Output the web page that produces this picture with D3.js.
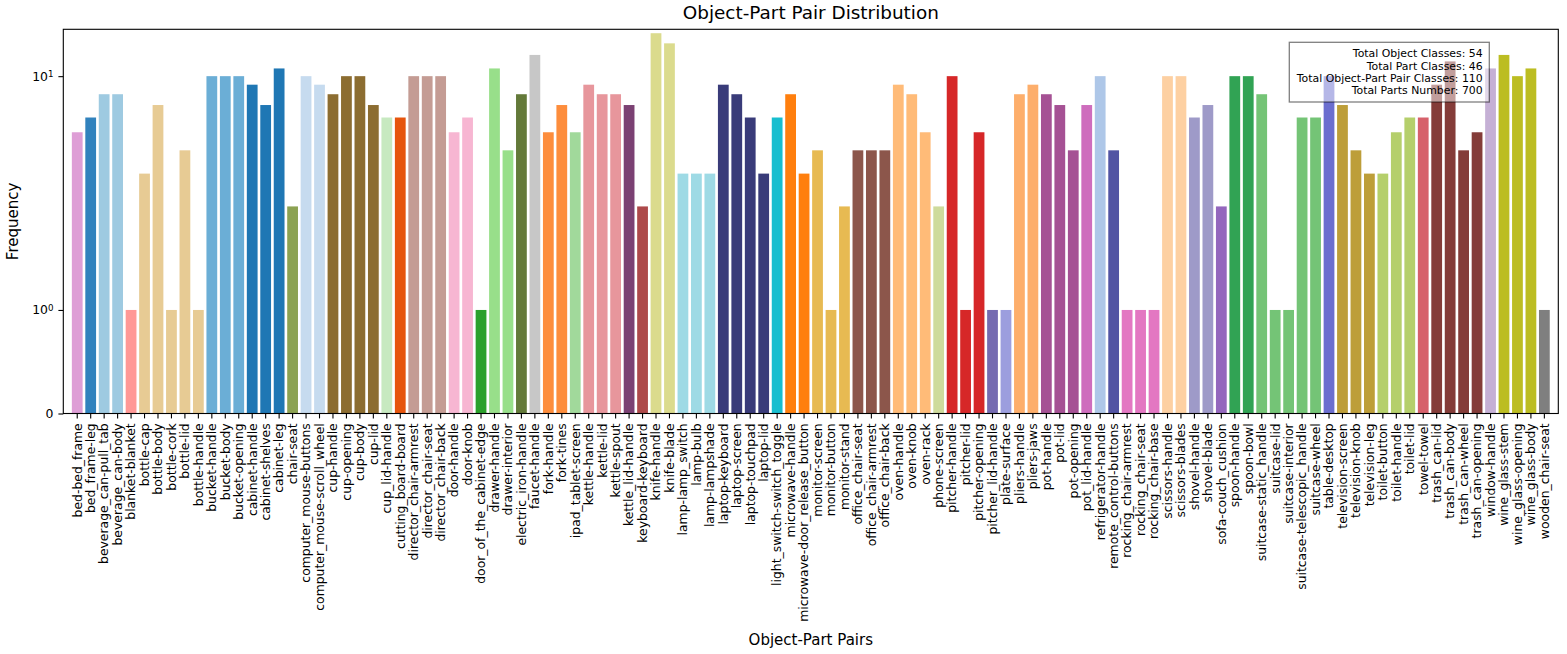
<!DOCTYPE html>
<html>
<head>
<meta charset="utf-8">
<title>Object-Part Pair Distribution</title>
<script src="https://cdn.jsdelivr.net/npm/d3@7"></script>
<style>
  body { margin: 0; background: #fff; }
  svg { display: block; }
  text { font-family: "DejaVu Sans", "Noto Sans", sans-serif; fill: #000; }
</style>
</head>
<body>
<svg id="chart" width="1567" height="654"></svg>
<script>
// Object-part pair names ("object-part") in plotting order
const pairs = [
  "bed-bed_frame", "bed_frame-leg", "beverage_can-pull_tab", "beverage_can-body", "blanket-blanket",
  "bottle-cap", "bottle-body", "bottle-cork", "bottle-lid", "bottle-handle",
  "bucket-handle", "bucket-body", "bucket-opening", "cabinet-handle", "cabinet-shelves",
  "cabinet-leg", "chair-seat", "computer_mouse-buttons", "computer_mouse-scroll_wheel", "cup-handle",
  "cup-opening", "cup-body", "cup-lid", "cup_lid-handle", "cutting_board-board",
  "director_chair-armrest", "director_chair-seat", "director_chair-back", "door-handle", "door-knob",
  "door_of_the_cabinet-edge", "drawer-handle", "drawer-interior", "electric_iron-handle", "faucet-handle",
  "fork-handle", "fork-tines", "ipad_tablet-screen", "kettle-handle", "kettle-lid",
  "kettle-spout", "kettle_lid-handle", "keyboard-keyboard", "knife-handle", "knife-blade",
  "lamp-lamp_switch", "lamp-bulb", "lamp-lampshade", "laptop-keyboard", "laptop-screen",
  "laptop-touchpad", "laptop-lid", "light_switch-switch_toggle", "microwave-handle", "microwave-door_release_button",
  "monitor-screen", "monitor-button", "monitor-stand", "office_chair-seat", "office_chair-armrest",
  "office_chair-back", "oven-handle", "oven-knob", "oven-rack", "phone-screen",
  "pitcher-handle", "pitcher-lid", "pitcher-opening", "pitcher_lid-handle", "plate-surface",
  "pliers-handle", "pliers-jaws", "pot-handle", "pot-lid", "pot-opening",
  "pot_lid-handle", "refrigerator-handle", "remote_control-buttons", "rocking_chair-armrest", "rocking_chair-seat",
  "rocking_chair-base", "scissors-handle", "scissors-blades", "shovel-handle", "shovel-blade",
  "sofa-couch_cushion", "spoon-handle", "spoon-bowl", "suitcase-static_handle", "suitcase-lid",
  "suitcase-interior", "suitcase-telescopic_handle", "suitcase-wheel", "table-desktop", "television-screen",
  "television-knob", "television-leg", "toilet-button", "toilet-handle", "toilet-lid",
  "towel-towel", "trash_can-lid", "trash_can-body", "trash_can-wheel", "trash_can-opening",
  "window-handle", "wine_glass-stem", "wine_glass-opening", "wine_glass-body", "wooden_chair-seat"
];

// Number of annotated parts for each pair
const counts = [
  5, 6, 8, 8, 1, 3, 7, 1, 4, 1,
  10, 10, 10, 9, 7, 11, 2, 10, 9, 8,
  10, 10, 7, 6, 6, 10, 10, 10, 5, 6,
  1, 11, 4, 8, 13, 5, 7, 5, 9, 8,
  8, 7, 2, 17, 15, 3, 3, 3, 9, 8,
  6, 3, 6, 8, 3, 4, 1, 2, 4, 4,
  4, 9, 8, 5, 2, 10, 1, 5, 1, 1,
  8, 9, 8, 7, 4, 7, 10, 4, 1, 1,
  1, 10, 10, 6, 7, 2, 10, 10, 8, 1,
  1, 6, 6, 10, 7, 4, 3, 3, 5, 6,
  6, 9, 12, 4, 5, 11, 13, 10, 11, 1
];

// One colour per object class
const objects = [
  "bed", "bed_frame", "beverage_can", "blanket", "bottle", "bucket", "cabinet", "chair",
  "computer_mouse", "cup", "cup_lid", "cutting_board", "director_chair", "door", "door_of_the_cabinet",
  "drawer", "electric_iron", "faucet", "fork", "ipad_tablet", "kettle", "kettle_lid", "keyboard",
  "knife", "lamp", "laptop", "light_switch", "microwave", "monitor", "office_chair", "oven",
  "phone", "pitcher", "pitcher_lid", "plate", "pliers", "pot", "pot_lid", "refrigerator",
  "remote_control", "rocking_chair", "scissors", "shovel", "sofa", "spoon", "suitcase", "table",
  "television", "toilet", "towel", "trash_can", "window", "wine_glass", "wooden_chair"
];
const objectColors = [
  "#de9ed6", "#3182bd", "#9ecae1", "#ff9896", "#e7cb94", "#6baed6", "#1f77b4", "#8ca252",
  "#c6dbef", "#8c6d31", "#c7e9c0", "#e6550d", "#c49c94", "#f7b6d2", "#2ca02c",
  "#98df8a", "#637939", "#c7c7c7", "#fd8d3c", "#a1d99b", "#e7969c", "#7b4173", "#ad494a",
  "#dbdb8d", "#9edae5", "#393b79", "#17becf", "#ff7f0e", "#e7ba52", "#8c564b", "#ffbb78",
  "#cedb9c", "#d62728", "#756bb1", "#9c9ede", "#fdae6b", "#a55194", "#ce6dbd", "#aec7e8",
  "#5254a3", "#e377c2", "#fdd0a2", "#9e9ac8", "#9467bd", "#31a354", "#74c476", "#6b6ecf",
  "#bd9e39", "#b5cf6b", "#d6616b", "#843c39", "#c5b0d5", "#bcbd22", "#7f7f7f"
];

const yTickValues = [0, 1, 10];

const titleText = "Object-Part Pair Distribution";
const xLabelText = "Object-Part Pairs";
const yLabelText = "Frequency";

// ---- derived summary ----
const objOf = p => p.slice(0, p.indexOf("-"));
const partOf = p => p.slice(p.indexOf("-") + 1);
const summaryLines = [
  `Total Object Classes: ${new Set(pairs.map(objOf)).size}`,
  `Total Part Classes: ${new Set(pairs.map(partOf)).size}`,
  `Total Object-Part Pair Classes: ${pairs.length}`,
  `Total Parts Number: ${d3.sum(counts)}`
];

// ---- layout ----
const plot = { left: 63.3, right: 1558.3, top: 29.3, bottom: 413.5 };
const svg = d3.select("#chart");

// symmetric log transform (linear below the threshold, log10 above)
const LINTHRESH = 2, LINSCALE = 1, BASE = 10;
const linscaleAdj = LINSCALE / (1 - 1 / BASE);
function symlog(v) {
  const a = Math.abs(v);
  if (a <= LINTHRESH) return v * linscaleAdj;
  return Math.sign(v) * LINTHRESH * (linscaleAdj + Math.log(a / LINTHRESH) / Math.log(BASE));
}

const x = d3.scaleBand()
  .domain(pairs)
  .range([plot.left, plot.right])
  .paddingInner(0.2)
  .paddingOuter(0.635);

const yT = d3.scaleLinear()
  .domain([0, symlog(d3.max(counts)) + 0.042])
  .range([plot.bottom, plot.top]);
const y = v => yT(symlog(v));

const colorScale = d3.scaleOrdinal().domain(objects).range(objectColors);

// ---- bars ----
svg.append("g")
  .selectAll("rect")
  .data(pairs.map((p, i) => ({ pair: p, count: counts[i] })))
  .join("rect")
  .attr("x", d => x(d.pair))
  .attr("width", x.bandwidth())
  .attr("y", d => y(d.count))
  .attr("height", d => y(0) - y(d.count))
  .attr("fill", d => colorScale(objOf(d.pair)));

// ---- x axis ----
const TICK = 4.9, PAD = 4.9;
const xAxis = svg.append("g")
  .attr("transform", `translate(0,${plot.bottom})`)
  .call(d3.axisBottom(x).tickSize(TICK).tickPadding(PAD));
xAxis.select(".domain").remove();
xAxis.selectAll(".tick line").attr("stroke", "#000").attr("stroke-width", 1.1);
xAxis.selectAll(".tick text")
  .attr("transform", "rotate(-90)")
  .attr("x", -(TICK + PAD))
  .attr("y", 0)
  .attr("dy", "0.35em")
  .attr("text-anchor", "end")
  .style("font-size", "12.4px")
  .style("font-family", "'DejaVu Sans', sans-serif")
  .attr("fill", "#000");

// ---- y axis ----
const yAxis = svg.append("g")
  .attr("transform", `translate(${plot.left},0)`)
  .call(d3.axisLeft(yT)
    .tickValues(yTickValues.map(symlog))
    .tickSize(TICK)
    .tickPadding(PAD)
    .tickFormat(""));
yAxis.select(".domain").remove();
yAxis.selectAll(".tick line").attr("stroke", "#000").attr("stroke-width", 1.1);
yAxis.selectAll(".tick text")
  .data(yTickValues)
  .style("font-size", "12.4px")
  .style("font-family", "'DejaVu Sans', sans-serif")
  .attr("fill", "#000")
  .each(function (v) {
    const t = d3.select(this);
    t.text(null);
    if (v === 0) {
      t.append("tspan").text("0");
    } else {
      const exp = Math.round(Math.log10(v));
      t.append("tspan").text("10");
      t.append("tspan").attr("dy", "-0.42em").style("font-size", "8.7px").text(String(exp));
    }
  });

// ---- frame ----
svg.append("rect")
  .attr("x", plot.left).attr("y", plot.top)
  .attr("width", plot.right - plot.left)
  .attr("height", plot.bottom - plot.top)
  .attr("fill", "none")
  .attr("stroke", "#000")
  .attr("stroke-width", 1.1);

// ---- summary box ----
const box = { x: 1289.3, y: 42.3, w: 200, h: 59.7 };
svg.append("rect")
  .attr("x", box.x).attr("y", box.y)
  .attr("width", box.w).attr("height", box.h)
  .attr("fill", "#fff").attr("fill-opacity", 0.5)
  .attr("stroke", "#000").attr("stroke-opacity", 0.5)
  .attr("stroke-width", 1.3);
svg.append("g")
  .selectAll("text")
  .data(summaryLines)
  .join("text")
  .attr("x", box.x + box.w - 6.6)
  .attr("y", (d, i) => 57.3 + i * 12.3)
  .attr("text-anchor", "end")
  .style("font-size", "10.9px")
  .text(d => d);

// ---- titles ----
svg.append("text")
  .attr("x", (plot.left + plot.right) / 2)
  .attr("y", 19)
  .attr("text-anchor", "middle")
  .style("font-size", "18.4px")
  .text(titleText);

svg.append("text")
  .attr("x", (plot.left + plot.right) / 2)
  .attr("y", 645)
  .attr("text-anchor", "middle")
  .style("font-size", "15px")
  .text(xLabelText);

svg.append("text")
  .attr("transform", `translate(18.3,${(plot.top + plot.bottom) / 2}) rotate(-90)`)
  .attr("text-anchor", "middle")
  .style("font-size", "15px")
  .text(yLabelText);
</script>
</body>
</html>
